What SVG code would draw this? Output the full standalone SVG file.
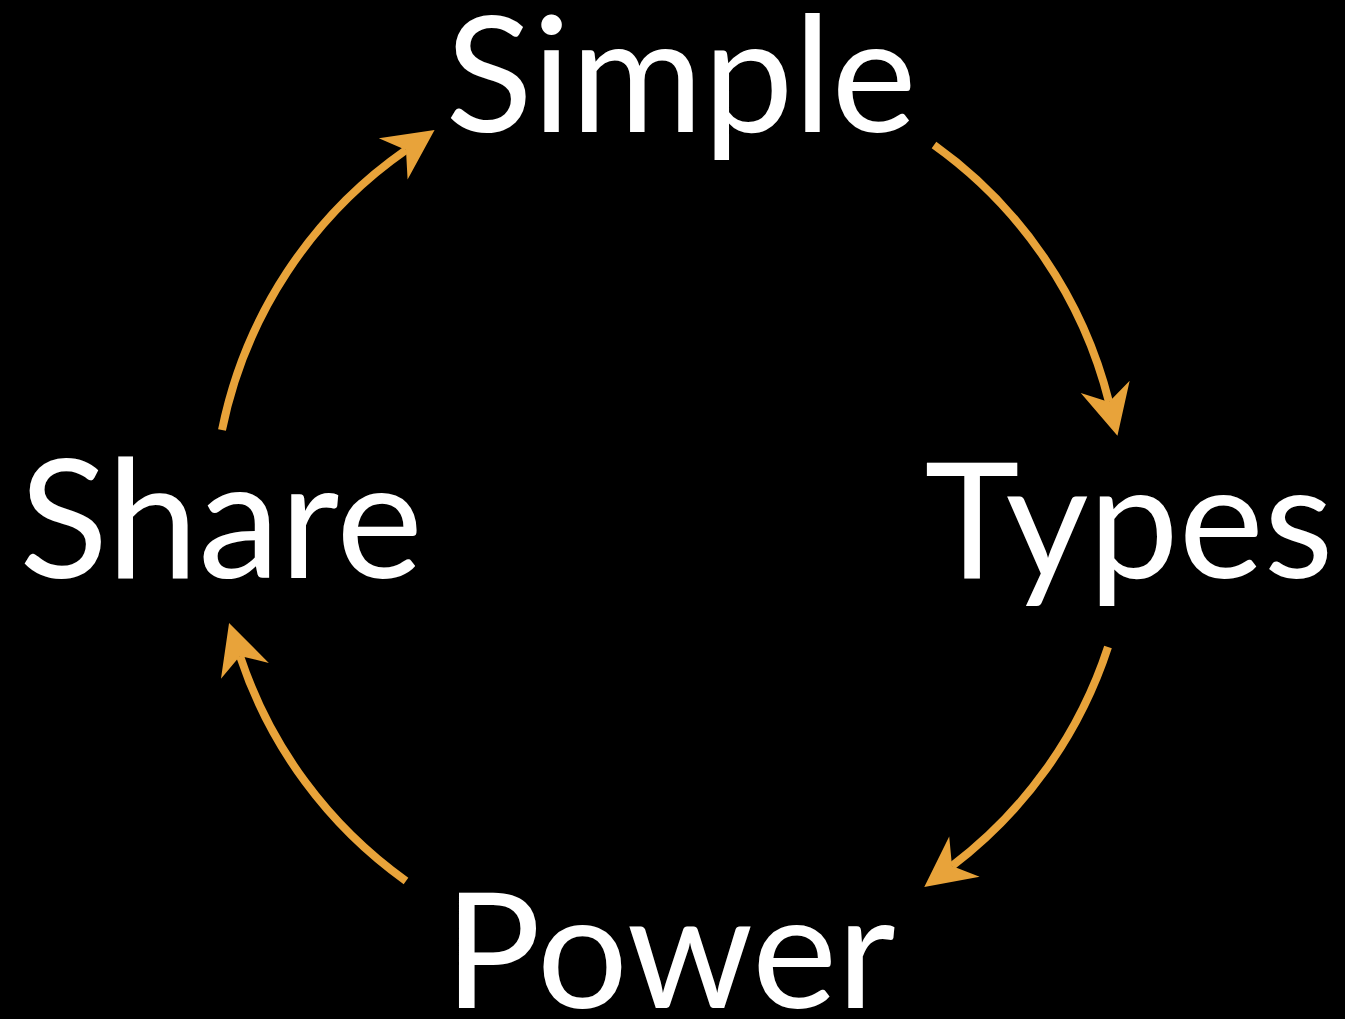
<svg xmlns="http://www.w3.org/2000/svg" width="1345" height="1019" viewBox="0 0 1345 1019">
<style>
.lbl{font-family:Lato,"Noto Sans",sans-serif;font-size:161px;fill:#ffffff;text-anchor:middle}
.arc{fill:none;stroke:#E8A33A;stroke-width:8}
</style>
<defs>
<marker id="ah" markerUnits="userSpaceOnUse" markerWidth="60" markerHeight="60" viewBox="-15 -25 50 50" refX="0" refY="0" orient="auto" overflow="visible">
<path d="M29,0 L-13,-21 L0,0 L-13,21 Z" fill="#E8A33A"/>
</marker>
</defs>
<rect width="1345" height="1019" fill="#000000"/>
<g id="connectors">
<path class="arc" d="M222,430 A450,450 0 0 1 406,150" marker-end="url(#ah)"/>
<path class="arc" d="M934,145 A450,450 0 0 1 1109,402" marker-end="url(#ah)"/>
<path class="arc" d="M1108,647 A450,450 0 0 1 952,866" marker-end="url(#ah)"/>
<path class="arc" d="M406,881 A450,450 0 0 1 240,656" marker-end="url(#ah)"/>
</g>
<g id="simple"><text class="lbl" x="681" y="132">Simple</text></g>
<g id="types"><text class="lbl" x="1129" y="578">Types</text></g>
<g id="power"><text class="lbl" x="670" y="1008">Power</text></g>
<g id="share"><text class="lbl" x="221" y="578" style="font-size:164px">Share</text></g>
</svg>
